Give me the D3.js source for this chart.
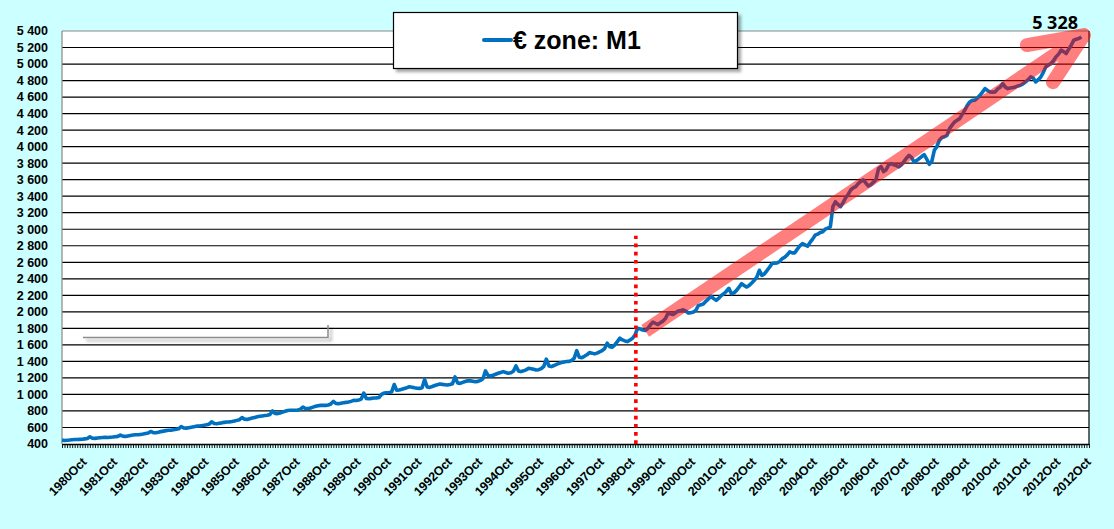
<!DOCTYPE html>
<html>
<head>
<meta charset="utf-8">
<script src="https://cdn.jsdelivr.net/npm/d3@7"></script>
<style>
  html, body { margin: 0; padding: 0; background: #ccffff; }
  svg { display: block; }
  text { font-family: "Liberation Sans", Arial, sans-serif; font-weight: bold; fill: #000; }
</style>
</head>
<body>
<script>
// Euro area M1, monthly, index 0 = Jan 1980 (billions EUR)
const m1Values = [
  448, 442, 445, 448, 452, 455, 454, 456, 458, 462, 466, 488,        // 1980
  470, 468, 472, 476, 478, 480, 479, 482, 484, 488, 492, 508,        // 1981
  494, 492, 498, 504, 508, 512, 512, 516, 520, 526, 532, 552,        // 1982
  538, 536, 542, 550, 556, 562, 566, 568, 572, 578, 584, 612,        // 1983
  594, 592, 598, 604, 610, 616, 618, 622, 626, 632, 640, 668,        // 1984
  648, 646, 652, 656, 662, 666, 668, 672, 678, 686, 694, 720,        // 1985
  700, 698, 706, 714, 722, 730, 736, 740, 744, 748, 756, 800,        // 1986
  770, 768, 776, 786, 796, 806, 808, 808, 808, 812, 820, 848,        // 1987
  830, 828, 836, 846, 856, 864, 868, 868, 868, 872, 884, 916,        // 1988
  892, 888, 894, 900, 904, 908, 916, 928, 926, 932, 944, 1016,       // 1989
  952, 948, 952, 956, 958, 962, 1000, 1016, 1020, 1024, 1032, 1120,  // 1990
  1050, 1053, 1062, 1072, 1082, 1093, 1088, 1080, 1075, 1073, 1082, 1180, // 1991
  1090, 1085, 1096, 1108, 1118, 1126, 1122, 1118, 1114, 1120, 1130, 1212, // 1992
  1140, 1134, 1146, 1156, 1166, 1164, 1160, 1154, 1158, 1170, 1190, 1285, // 1993
  1230, 1223, 1232, 1244, 1256, 1266, 1276, 1266, 1256, 1262, 1280, 1345, // 1994
  1285, 1276, 1286, 1298, 1316, 1312, 1305, 1296, 1300, 1312, 1340, 1428, // 1995
  1345, 1337, 1350, 1364, 1377, 1386, 1392, 1398, 1400, 1410, 1440, 1530, // 1996
  1450, 1446, 1462, 1480, 1507, 1500, 1491, 1500, 1516, 1530, 1556, 1620, // 1997
  1578, 1572, 1600, 1640, 1681, 1660, 1648, 1640, 1660, 1680, 1720, 1803, // 1998
  1794, 1780, 1774, 1800, 1840, 1875, 1860, 1847, 1870, 1888, 1920, 1985, // 1999
  1975, 1969, 1990, 2010, 2017, 2025, 2010, 1985, 1990, 1997, 2020, 2078, // 2000
  2085, 2098, 2130, 2160, 2187, 2160, 2139, 2165, 2199, 2220, 2250, 2285, // 2001
  2220, 2230, 2260, 2300, 2341, 2320, 2300, 2320, 2350, 2382, 2420, 2503, // 2002
  2442, 2460, 2500, 2540, 2584, 2590, 2592, 2610, 2645, 2660, 2690, 2726, // 2003
  2714, 2714, 2760, 2800, 2827, 2810, 2795, 2840, 2880, 2928, 2940, 2960, // 2004
  2969, 3000, 3015, 3030, 3273, 3333, 3300, 3273, 3320, 3380, 3420, 3475, // 2005
  3500, 3516, 3552, 3580, 3597, 3560, 3523, 3540, 3570, 3600, 3733, 3759, // 2006
  3698, 3720, 3779, 3794, 3780, 3770, 3754, 3780, 3820, 3860, 3895, 3870, // 2007
  3814, 3830, 3855, 3880, 3903, 3850, 3786, 3820, 3955, 4000, 4077, 4110, // 2008
  4120, 4137, 4218, 4260, 4299, 4320, 4339, 4390, 4440, 4500, 4541, 4560, // 2009
  4561, 4590, 4622, 4660, 4703, 4680, 4662, 4660, 4662, 4700, 4720, 4763, // 2010
  4720, 4703, 4710, 4715, 4723, 4735, 4743, 4760, 4784, 4810, 4844, 4830, // 2011
  4784, 4810, 4844, 4900, 4966, 4990, 5006, 5040, 5087, 5120, 5168, 5150, // 2012
  5127, 5180, 5228, 5289, 5300, 5309, 5328                               // 2013
];

// category axis: 406 monthly slots, labels every 12 months
const monthCount = 406;
const xLabels = [
  "1980Oct", "1981Oct", "1982Oct", "1983Oct", "1984Oct", "1985Oct", "1986Oct",
  "1987Oct", "1988Oct", "1989Oct", "1990Oct", "1991Oct", "1992Oct", "1993Oct",
  "1994Oct", "1995Oct", "1996Oct", "1997Oct", "1998Oct", "1999Oct", "2000Oct",
  "2001Oct", "2002Oct", "2003Oct", "2004Oct", "2005Oct", "2006Oct", "2007Oct",
  "2008Oct", "2009Oct", "2010Oct", "2011Oct", "2012Oct", "2012Oct"
];
const xLabelIndex = [
  9, 21, 33, 45, 57, 69, 81, 93, 105, 117, 129, 141, 153, 165, 177, 189, 201,
  213, 225, 237, 249, 261, 273, 285, 297, 309, 321, 333, 345, 357, 369, 381, 393, 405
];
const yTicks = [400, 600, 800, 1000, 1200, 1400, 1600, 1800, 2000, 2200, 2400, 2600,
  2800, 3000, 3200, 3400, 3600, 3800, 4000, 4200, 4400, 4600, 4800, 5000, 5200, 5400];

// annotations, in data coordinates [month index, value]
const euroLine = [[226.3, 400], [226.3, 2920]];
const arrowShaft = [[230, 1770], [403, 5350]];
const arrowHead = [[380.5, 5230], [403, 5350], [390.8, 4780]];
const lastLabel = "5 328";
const seriesName = "€ zone: M1";

const width = 1114, height = 529;
const x = d3.scaleLinear().domain([0, monthCount - 1]).range([62, 1089]);
const y = d3.scaleLinear().domain([400, 5400]).range([444, 31]);
const fmt = d3.formatLocale({ decimal: ",", thousands: " ", grouping: [3], currency: ["", ""] }).format(",");

const svg = d3.select("body").append("svg")
  .attr("width", width)
  .attr("height", height);

const defs = svg.append("defs");
defs.append("filter")
  .attr("id", "shadow")
  .attr("x", "-10%").attr("y", "-30%").attr("width", "130%").attr("height", "180%")
  .append("feDropShadow")
  .attr("dx", 3).attr("dy", 3).attr("stdDeviation", 1.5)
  .attr("flood-color", "#000").attr("flood-opacity", 0.35);

svg.append("rect")
  .attr("width", width).attr("height", height)
  .attr("fill", "#ccffff");

// plot area
svg.append("rect")
  .attr("x", x.range()[0]).attr("y", y(5400))
  .attr("width", x.range()[1] - x.range()[0])
  .attr("height", y(400) - y(5400))
  .attr("fill", "#fff");

// horizontal gridlines
svg.append("g")
  .selectAll("line")
  .data(yTicks.filter((d) => d > 400 && d < 5400))
  .join("line")
  .attr("x1", x.range()[0]).attr("x2", x.range()[1])
  .attr("y1", (d) => y(d)).attr("y2", (d) => y(d))
  .attr("stroke", "#000")
  .attr("stroke-width", 1.2);

// plot borders
svg.append("line")
  .attr("x1", x.range()[0]).attr("x2", x.range()[1])
  .attr("y1", y(5400)).attr("y2", y(5400))
  .attr("stroke", "#888");
svg.append("line")
  .attr("x1", x.range()[1]).attr("x2", x.range()[1])
  .attr("y1", y(5400)).attr("y2", y(400))
  .attr("stroke", "#000").attr("stroke-width", 1.2);
svg.append("line")
  .attr("x1", x.range()[0]).attr("x2", x.range()[0])
  .attr("y1", y(5400)).attr("y2", y(400))
  .attr("stroke", "#888").attr("stroke-width", 1.2);

// bottom axis with monthly tick marks
const xAxis = svg.append("g")
  .attr("transform", `translate(0,${y(400)})`)
  .call(d3.axisBottom(x)
    .tickValues(d3.range(monthCount))
    .tickSize(4)
    .tickSizeOuter(0)
    .tickFormat(""));
xAxis.select(".domain").attr("stroke", "#000").attr("stroke-width", 1.5);
xAxis.selectAll(".tick line").attr("stroke", "#000").attr("stroke-width", 0.9);

// y labels
svg.append("g")
  .selectAll("text")
  .data(yTicks)
  .join("text")
  .attr("x", 48)
  .attr("y", (d) => y(d) + 4.4)
  .attr("text-anchor", "end")
  .attr("font-size", 12.5)
  .text((d) => fmt(d));

// x labels, rotated
svg.append("g")
  .selectAll("text")
  .data(xLabels)
  .join("text")
  .attr("transform", (d, i) => `translate(${x(xLabelIndex[i]) + 2.5},${463}) rotate(-45)`)
  .attr("text-anchor", "end")
  .attr("font-size", 12.5)
  .attr("letter-spacing", -0.2)
  .text((d) => d);

// stray empty shape outline (bottom/right edges only)
svg.append("path")
  .attr("d", "M83,337.5H328V325")
  .attr("fill", "none")
  .attr("stroke", "#8c8c8c")
  .attr("stroke-width", 1.5)
  .attr("filter", "url(#shadow)");

// series line
const line = d3.line()
  .x((d, i) => x(i))
  .y((d) => y(d));
svg.append("path")
  .datum(m1Values)
  .attr("d", line)
  .attr("fill", "none")
  .attr("stroke", "#0070c0")
  .attr("stroke-width", 3.6)
  .attr("stroke-linejoin", "round");

// euro start marker
svg.append("path")
  .datum(euroLine)
  .attr("d", d3.line().x((d) => x(d[0])).y((d) => y(d[1])))
  .attr("stroke", "#ff0000")
  .attr("stroke-width", 3.6)
  .attr("stroke-dasharray", "3.7,4.5");

// trend arrow (semi transparent red)
const pt = d3.line().x((d) => x(d[0])).y((d) => y(d[1]));
const arrow = svg.append("g").attr("opacity", 0.5);
arrow.append("path")
  .datum(arrowShaft)
  .attr("d", pt)
  .attr("stroke", "#ff0000")
  .attr("stroke-width", 14)
  .attr("stroke-linecap", "butt");
arrow.append("path")
  .datum(arrowHead)
  .attr("d", pt)
  .attr("fill", "none")
  .attr("stroke", "#ff0000")
  .attr("stroke-width", 14)
  .attr("stroke-linecap", "round")
  .attr("stroke-linejoin", "round");

// last value label
svg.append("text")
  .attr("x", 1078)
  .attr("y", 29)
  .attr("text-anchor", "end")
  .attr("font-size", 18)
  .style("font-family", "'Open Sans', 'Noto Sans', sans-serif")
  .text(lastLabel);

// legend
const legend = svg.append("g");
legend.append("rect")
  .attr("x", 393.5).attr("y", 12.5)
  .attr("width", 344).attr("height", 56)
  .attr("fill", "#fff")
  .attr("stroke", "#000")
  .attr("stroke-width", 1.2)
  .attr("filter", "url(#shadow)");
legend.append("line")
  .attr("x1", 484).attr("x2", 511)
  .attr("y1", 40).attr("y2", 40)
  .attr("stroke", "#0070c0")
  .attr("stroke-width", 4)
  .attr("stroke-linecap", "round");
legend.append("text")
  .attr("x", 513)
  .attr("y", 48.5)
  .attr("font-size", 25)
  .text(seriesName);
</script>
</body>
</html>
